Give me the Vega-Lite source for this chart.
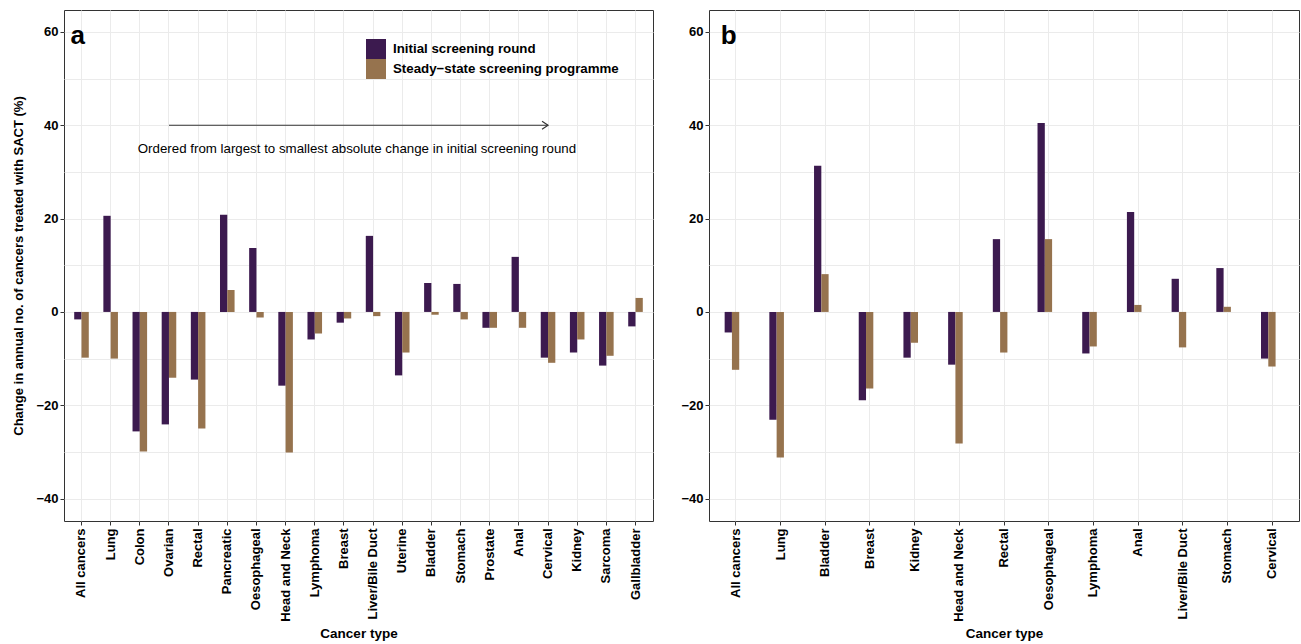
{
  "$schema": "https://vega.github.io/schema/vega-lite/v6.json",
  "padding": {"left": 12, "top": 9, "right": 0, "bottom": 0},
  "background": "white",
  "spacing": 26,
  "config": {
    "view": {"stroke": "#333333", "strokeWidth": 1},
    "font": "Liberation Sans",
    "axis": {
      "domain": false,
      "tickColor": "#333333",
      "tickSize": 4,
      "gridColor": "#ebebeb",
      "labelColor": "black",
      "labelFontWeight": "bold",
      "labelFontSize": 13,
      "labelFont": "Liberation Sans",
      "titleFont": "Liberation Sans",
      "titleFontWeight": "bold",
      "titleColor": "black"
    }
  },
  "datasets": {
    "a": [
      {"cancer": "All cancers", "round": "Initial screening round", "value": -1.6},
      {"cancer": "All cancers", "round": "Steady−state screening programme", "value": -9.8},
      {"cancer": "Lung", "round": "Initial screening round", "value": 20.6},
      {"cancer": "Lung", "round": "Steady−state screening programme", "value": -10.0},
      {"cancer": "Colon", "round": "Initial screening round", "value": -25.6},
      {"cancer": "Colon", "round": "Steady−state screening programme", "value": -29.9},
      {"cancer": "Ovarian", "round": "Initial screening round", "value": -24.1},
      {"cancer": "Ovarian", "round": "Steady−state screening programme", "value": -14.1},
      {"cancer": "Rectal", "round": "Initial screening round", "value": -14.5},
      {"cancer": "Rectal", "round": "Steady−state screening programme", "value": -25.0},
      {"cancer": "Pancreatic", "round": "Initial screening round", "value": 20.8},
      {"cancer": "Pancreatic", "round": "Steady−state screening programme", "value": 4.7},
      {"cancer": "Oesophageal", "round": "Initial screening round", "value": 13.7},
      {"cancer": "Oesophageal", "round": "Steady−state screening programme", "value": -1.2},
      {"cancer": "Head and Neck", "round": "Initial screening round", "value": -15.8},
      {"cancer": "Head and Neck", "round": "Steady−state screening programme", "value": -30.1},
      {"cancer": "Lymphoma", "round": "Initial screening round", "value": -5.9},
      {"cancer": "Lymphoma", "round": "Steady−state screening programme", "value": -4.6},
      {"cancer": "Breast", "round": "Initial screening round", "value": -2.3},
      {"cancer": "Breast", "round": "Steady−state screening programme", "value": -1.4},
      {"cancer": "Liver/Bile Duct", "round": "Initial screening round", "value": 16.3},
      {"cancer": "Liver/Bile Duct", "round": "Steady−state screening programme", "value": -0.9},
      {"cancer": "Uterine", "round": "Initial screening round", "value": -13.6},
      {"cancer": "Uterine", "round": "Steady−state screening programme", "value": -8.7},
      {"cancer": "Bladder", "round": "Initial screening round", "value": 6.2},
      {"cancer": "Bladder", "round": "Steady−state screening programme", "value": -0.6},
      {"cancer": "Stomach", "round": "Initial screening round", "value": 6.0},
      {"cancer": "Stomach", "round": "Steady−state screening programme", "value": -1.6},
      {"cancer": "Prostate", "round": "Initial screening round", "value": -3.4},
      {"cancer": "Prostate", "round": "Steady−state screening programme", "value": -3.4},
      {"cancer": "Anal", "round": "Initial screening round", "value": 11.8},
      {"cancer": "Anal", "round": "Steady−state screening programme", "value": -3.4},
      {"cancer": "Cervical", "round": "Initial screening round", "value": -9.8},
      {"cancer": "Cervical", "round": "Steady−state screening programme", "value": -10.9},
      {"cancer": "Kidney", "round": "Initial screening round", "value": -8.7},
      {"cancer": "Kidney", "round": "Steady−state screening programme", "value": -5.9},
      {"cancer": "Sarcoma", "round": "Initial screening round", "value": -11.5},
      {"cancer": "Sarcoma", "round": "Steady−state screening programme", "value": -9.4},
      {"cancer": "Gallbladder", "round": "Initial screening round", "value": -3.1},
      {"cancer": "Gallbladder", "round": "Steady−state screening programme", "value": 3.0}
    ],
    "b": [
      {"cancer": "All cancers", "round": "Initial screening round", "value": -4.4},
      {"cancer": "All cancers", "round": "Steady−state screening programme", "value": -12.4},
      {"cancer": "Lung", "round": "Initial screening round", "value": -23.1},
      {"cancer": "Lung", "round": "Steady−state screening programme", "value": -31.2},
      {"cancer": "Bladder", "round": "Initial screening round", "value": 31.3},
      {"cancer": "Bladder", "round": "Steady−state screening programme", "value": 8.1},
      {"cancer": "Breast", "round": "Initial screening round", "value": -18.9},
      {"cancer": "Breast", "round": "Steady−state screening programme", "value": -16.4},
      {"cancer": "Kidney", "round": "Initial screening round", "value": -9.8},
      {"cancer": "Kidney", "round": "Steady−state screening programme", "value": -6.6},
      {"cancer": "Head and Neck", "round": "Initial screening round", "value": -11.3},
      {"cancer": "Head and Neck", "round": "Steady−state screening programme", "value": -28.2},
      {"cancer": "Rectal", "round": "Initial screening round", "value": 15.6},
      {"cancer": "Rectal", "round": "Steady−state screening programme", "value": -8.7},
      {"cancer": "Oesophageal", "round": "Initial screening round", "value": 40.5},
      {"cancer": "Oesophageal", "round": "Steady−state screening programme", "value": 15.6},
      {"cancer": "Lymphoma", "round": "Initial screening round", "value": -8.9},
      {"cancer": "Lymphoma", "round": "Steady−state screening programme", "value": -7.4},
      {"cancer": "Anal", "round": "Initial screening round", "value": 21.4},
      {"cancer": "Anal", "round": "Steady−state screening programme", "value": 1.5},
      {"cancer": "Liver/Bile Duct", "round": "Initial screening round", "value": 7.1},
      {"cancer": "Liver/Bile Duct", "round": "Steady−state screening programme", "value": -7.6},
      {"cancer": "Stomach", "round": "Initial screening round", "value": 9.4},
      {"cancer": "Stomach", "round": "Steady−state screening programme", "value": 1.1},
      {"cancer": "Cervical", "round": "Initial screening round", "value": -10.0},
      {"cancer": "Cervical", "round": "Steady−state screening programme", "value": -11.7}
    ]
  },
  "hconcat": [
    {
      "width": 589,
      "height": 511,
      "layer": [
        {
          "data": {"name": "a"},
          "mark": {"type": "bar"},
          "encoding": {
            "x": {
              "field": "cancer", "type": "nominal",
              "sort": ["All cancers", "Lung", "Colon", "Ovarian", "Rectal", "Pancreatic", "Oesophageal", "Head and Neck", "Lymphoma", "Breast", "Liver/Bile Duct", "Uterine", "Bladder", "Stomach", "Prostate", "Anal", "Cervical", "Kidney", "Sarcoma", "Gallbladder"],
              "scale": {"paddingInner": 0.5, "paddingOuter": 0.35},
              "title": "Cancer type",
              "axis": {"grid": true, "bandPosition": 0.5, "labelAngle": -90, "labelPadding": 3, "titleFontSize": 13.5, "titlePadding": 5}
            },
            "xOffset": {"field": "round", "type": "nominal", "sort": ["Initial screening round", "Steady−state screening programme"]},
            "y": {
              "field": "value", "type": "quantitative",
              "scale": {"domain": [-44.8, 64.7], "nice": false, "zero": false},
              "title": "Change in annual no. of cancers treated with SACT (%)",
              "axis": {
                "values": [-40, -30, -20, -10, 0, 10, 20, 30, 40, 50, 60],
                "labelExpr": "datum.value % 20 === 0 ? datum.label : ''",
                "tickOpacity": {"condition": {"test": "datum.value % 20 === 0", "value": 1}, "value": 0},
                "labelPadding": 2,
                "titleFontSize": 13,
                "titlePadding": 10
              }
            },
            "color": {
              "field": "round", "type": "nominal",
              "scale": {"domain": ["Initial screening round", "Steady−state screening programme"], "range": ["#3c1a4f", "#96734e"]},
              "legend": {
                "orient": "none", "legendX": 302, "legendY": 29, "title": null,
                "symbolType": "square", "symbolSize": 400, "symbolStrokeWidth": 0, "symbolOpacity": 1,
                "labelFontSize": 13.3, "labelFontWeight": "bold", "labelColor": "black", "labelFont": "Liberation Sans",
                "labelLimit": 0,
                "rowPadding": 0, "labelOffset": 7, "padding": 0
              }
            }
          }
        },
        {
          "data": {"values": [{}]},
          "mark": {"type": "rule", "color": "#333333", "strokeWidth": 1.2},
          "encoding": {
            "x": {"datum": "Ovarian", "type": "nominal"},
            "x2": {"datum": "Cervical"},
            "y": {"datum": 40, "type": "quantitative"}
          }
        },
        {
          "data": {"values": [{}]},
          "mark": {"type": "point", "shape": "M-1,-0.65L0,0L-1,0.65", "filled": false, "stroke": "#333333", "strokeWidth": 1.2, "size": 144, "opacity": 1},
          "encoding": {
            "x": {"datum": "Cervical", "type": "nominal"},
            "y": {"datum": 40, "type": "quantitative"}
          }
        },
        {
          "data": {"values": [{"label": "Ordered from largest to smallest absolute change in initial screening round"}]},
          "mark": {"type": "text", "align": "center", "baseline": "middle", "dx": 13, "fontSize": 13.3, "font": "Liberation Sans", "color": "black"},
          "encoding": {
            "x": {"datum": "Breast", "type": "nominal"},
            "y": {"datum": 35, "type": "quantitative"},
            "text": {"field": "label"}
          }
        },
        {
          "data": {"values": [{"label": "a"}]},
          "mark": {"type": "text", "align": "left", "baseline": "alphabetic", "dx": -11, "fontSize": 26, "fontWeight": "bold", "font": "Liberation Sans", "color": "black"},
          "encoding": {
            "x": {"datum": "All cancers", "type": "nominal"},
            "y": {"datum": 57.4, "type": "quantitative"},
            "text": {"field": "label"}
          }
        }
      ]
    },
    {
      "width": 590,
      "height": 511,
      "layer": [
        {
          "data": {"name": "b"},
          "mark": {"type": "bar"},
          "encoding": {
            "x": {
              "field": "cancer", "type": "nominal",
              "sort": ["All cancers", "Lung", "Bladder", "Breast", "Kidney", "Head and Neck", "Rectal", "Oesophageal", "Lymphoma", "Anal", "Liver/Bile Duct", "Stomach", "Cervical"],
              "scale": {"paddingInner": 0.5, "paddingOuter": 0.35},
              "title": "Cancer type",
              "axis": {"grid": true, "bandPosition": 0.5, "labelAngle": -90, "labelPadding": 3, "titleFontSize": 13.5, "titlePadding": 5}
            },
            "xOffset": {"field": "round", "type": "nominal", "sort": ["Initial screening round", "Steady−state screening programme"]},
            "y": {
              "field": "value", "type": "quantitative",
              "scale": {"domain": [-44.8, 64.7], "nice": false, "zero": false},
              "title": null,
              "axis": {
                "values": [-40, -30, -20, -10, 0, 10, 20, 30, 40, 50, 60],
                "labelExpr": "datum.value % 20 === 0 ? datum.label : ''",
                "tickOpacity": {"condition": {"test": "datum.value % 20 === 0", "value": 1}, "value": 0},
                "labelPadding": 2
              }
            },
            "color": {
              "field": "round", "type": "nominal",
              "scale": {"domain": ["Initial screening round", "Steady−state screening programme"], "range": ["#3c1a4f", "#96734e"]},
              "legend": null
            }
          }
        },
        {
          "data": {"values": [{"label": "b"}]},
          "mark": {"type": "text", "align": "left", "baseline": "alphabetic", "dx": -15, "fontSize": 26, "fontWeight": "bold", "font": "Liberation Sans", "color": "black"},
          "encoding": {
            "x": {"datum": "All cancers", "type": "nominal"},
            "y": {"datum": 57.4, "type": "quantitative"},
            "text": {"field": "label"}
          }
        }
      ]
    }
  ],
  "resolve": {"scale": {"color": "independent", "x": "independent", "y": "independent"}, "legend": {"color": "independent"}}
}
